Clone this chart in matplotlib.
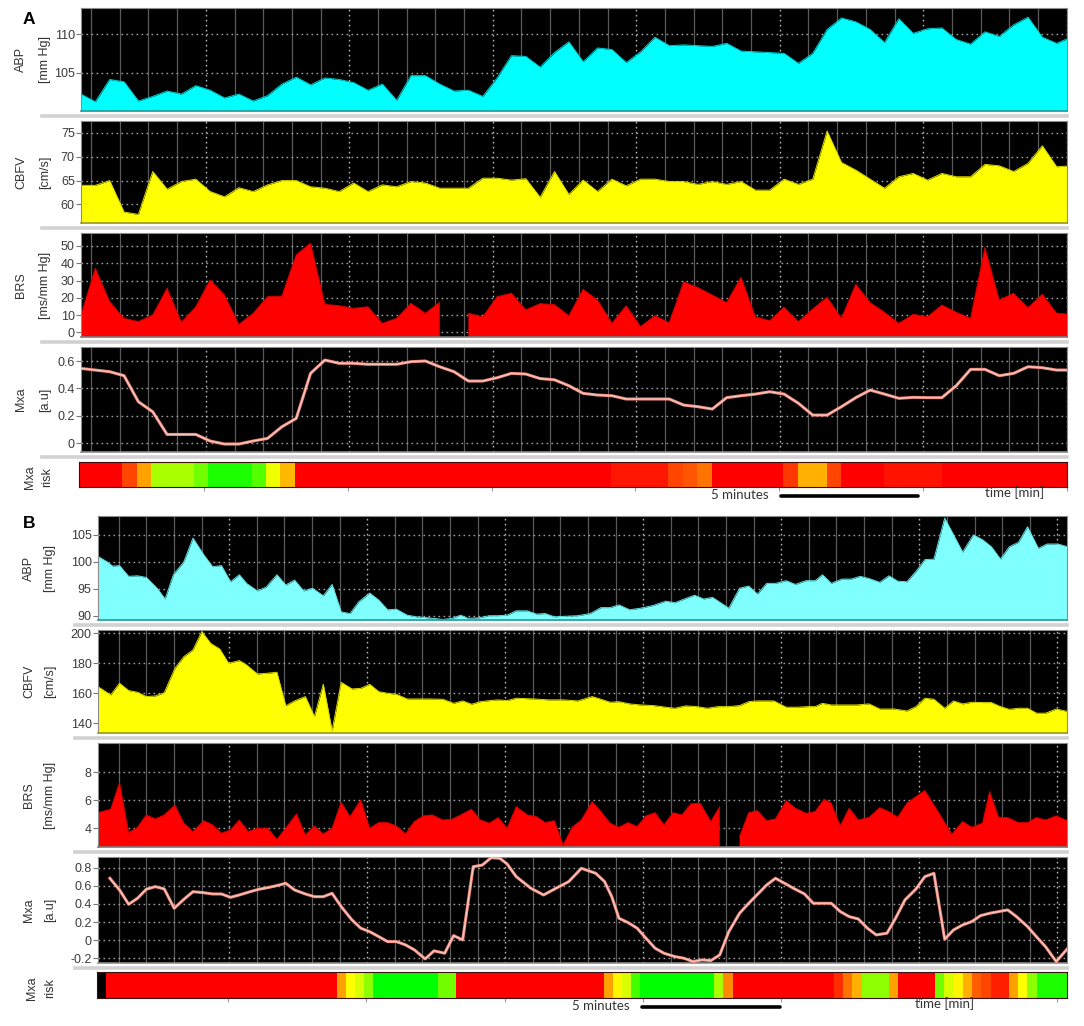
import numpy as np
import matplotlib
matplotlib.use("Agg")
import matplotlib.pyplot as plt
from matplotlib.colors import LinearSegmentedColormap
from matplotlib.lines import Line2D

plt.rcParams["font.family"] = ["Liberation Sans", "DejaVu Sans"]
plt.rcParams["axes.unicode_minus"] = False

# ======================= DATA =======================
# ---- Panel A : samples every 0.5 min ----
STEP_A = 0.5
abp_a = [102.2, 101.2, 104.1, 103.8, 101.3, 101.9, 102.6, 102.2, 103.3, 102.7,
         101.7, 102.2, 101.3, 102.0, 103.5, 104.4, 103.4, 104.3, 104.1, 103.7,
         102.7, 103.5, 101.4, 104.6, 104.6, 103.5, 102.6, 102.7, 101.9, 104.3,
         107.2, 107.1, 105.7, 107.6, 109.0, 106.4, 108.2, 108.0, 106.3, 107.7,
         109.6, 108.5, 108.6, 108.5, 108.4, 108.8, 107.8, 107.7, 107.6, 107.5,
         106.2, 107.5, 110.6, 112.1, 111.6, 110.6, 108.9, 112.0, 110.1, 110.7,
         110.8, 109.3, 108.7, 110.3, 109.7, 111.2, 112.2, 109.6, 108.8, 109.6]
cbfv_a = [64.0, 64.0, 65.0, 58.4, 57.9, 66.9, 63.2, 64.8, 65.3, 62.7,
          61.6, 63.5, 62.7, 64.1, 65.0, 65.0, 63.7, 63.4, 62.7, 64.5,
          62.7, 64.1, 63.7, 64.8, 64.5, 63.4, 63.4, 63.4, 65.5, 65.5,
          65.1, 65.4, 61.5, 66.9, 62.1, 65.1, 62.7, 65.3, 63.9, 65.3,
          65.3, 64.8, 64.8, 64.2, 64.8, 64.2, 64.8, 63.0, 63.0, 65.3,
          64.2, 65.3, 75.4, 68.8, 67.2, 65.3, 63.4, 65.8, 66.5, 65.1,
          66.5, 65.8, 65.8, 68.4, 68.1, 66.9, 68.6, 72.3, 67.9, 68.1]
brs_a = [10.0, 37.1, 17.7, 8.1, 6.2, 10.0, 25.5, 5.8, 14.8, 30.3,
         21.6, 4.6, 11.0, 20.6, 21.0, 44.8, 51.6, 16.2, 15.4, 13.9,
         14.8, 5.2, 8.1, 16.8, 11.0, 17.4, np.nan, 11.0, 9.0, 20.6,
         22.6, 13.0, 16.6, 16.0, 9.6, 24.9, 18.7, 5.2, 15.4, 3.3,
         9.6, 5.6, 29.3, 25.9, 21.6, 17.2, 31.9, 9.0, 6.7, 14.5,
         6.2, 13.5, 20.3, 8.1, 27.8, 17.2, 11.6, 5.2, 10.4, 9.0,
         15.8, 11.6, 8.1, 49.0, 18.7, 22.6, 14.3, 22.0, 11.0, 10.4]
mxa_a = [0.546, 0.534, 0.522, 0.493, 0.303, 0.230, 0.065, 0.065, 0.065, 0.017,
         -0.005, -0.005, 0.017, 0.036, 0.121, 0.182, 0.510, 0.607, 0.583, 0.583,
         0.576, 0.576, 0.576, 0.595, 0.600, 0.558, 0.522, 0.454, 0.454, 0.478,
         0.510, 0.505, 0.472, 0.463, 0.420, 0.364, 0.352, 0.347, 0.323, 0.323,
         0.323, 0.323, 0.279, 0.267, 0.250, 0.333, 0.347, 0.359, 0.376, 0.359,
         0.292, 0.206, 0.206, 0.267, 0.333, 0.388, 0.359, 0.328, 0.335, 0.333,
         0.333, 0.420, 0.539, 0.539, 0.493, 0.510, 0.558, 0.551, 0.534, 0.534]
# Mxa risk level per 0.5-min bin (0 = green, 1 = red)
RISK_BIN_A = 0.5
risk_a = [1.0, 1.0, 1.0, 0.85, 0.65, 0.3, 0.3, 0.3, 0.2, 0.05,
          0.05, 0.05, 0.15, 0.42, 0.6, 1.0, 1.0, 1.0, 1.0, 1.0,
          1.0, 1.0, 1.0, 1.0, 1.0, 1.0, 1.0, 1.0, 1.0, 1.0,
          1.0, 1.0, 1.0, 1.0, 1.0, 1.0, 1.0, 0.95, 0.95, 0.95,
          0.95, 0.85, 0.82, 0.75, 1.0, 1.0, 1.0, 1.0, 1.0, 0.88,
          0.62, 0.62, 0.85, 1.0, 1.0, 1.0, 0.96, 0.96, 0.96, 0.96,
          1.0, 1.0, 1.0, 1.0, 1.0, 1.0, 1.0, 1.0, 1.0]

# ---- Panel B : irregular sample times (min) ----
abp_b_t = [0.0, 0.33, 0.53, 0.78, 1.11, 1.43, 1.75, 2.14, 2.43, 2.73,
           3.11, 3.44, 3.83, 4.15, 4.47, 4.80, 5.12, 5.38, 5.77, 6.09,
           6.48, 6.80, 7.12, 7.45, 7.77, 8.16, 8.48, 8.81, 9.13, 9.45,
           9.84, 10.17, 10.49, 10.81, 11.20, 11.52, 11.98, 12.49, 12.82, 13.14,
           13.40, 13.79, 14.18, 14.50, 14.82, 15.15, 15.55, 15.88, 16.20, 16.53,
           16.98, 17.38, 17.83, 18.22, 18.55, 18.87, 19.26, 19.66, 20.11, 20.57,
           20.89, 21.29, 21.61, 21.94, 22.26, 22.85, 23.24, 23.57, 23.89, 24.22,
           24.54, 24.93, 25.26, 25.65, 25.98, 26.24, 26.56, 26.95, 27.28, 27.61,
           27.93, 28.32, 28.65, 28.97, 29.30, 29.63, 29.95, 30.28, 30.67, 30.99,
           31.32, 31.71, 32.04, 32.36, 32.69, 33.01, 33.34, 33.67, 34.06, 34.38,
           34.77, 35.12]
abp_b = [101.0, 100.0, 99.2, 99.3, 97.3, 97.4, 97.1, 95.1, 93.1, 97.6,
         100.0, 104.4, 101.3, 99.1, 99.3, 96.3, 97.6, 96.0, 94.6, 95.3,
         97.6, 95.7, 96.6, 94.6, 95.1, 93.7, 95.8, 90.7, 90.4, 92.6,
         94.2, 92.9, 91.1, 91.2, 90.1, 89.8, 89.6, 89.3, 89.5, 90.1,
         89.5, 89.6, 90.0, 90.0, 90.1, 90.9, 90.9, 90.3, 90.4, 89.8,
         89.9, 90.0, 90.4, 91.5, 91.5, 92.0, 91.1, 91.4, 91.9, 92.7,
         92.4, 93.2, 93.8, 93.1, 93.4, 91.4, 95.1, 95.5, 94.0, 96.0,
         96.0, 96.5, 95.8, 96.5, 96.5, 97.6, 96.0, 96.8, 96.8, 97.3,
         96.9, 96.2, 97.4, 96.4, 96.3, 98.2, 100.4, 100.5, 108.1, 105.0,
         101.8, 105.0, 104.1, 102.8, 100.5, 102.8, 103.6, 106.5, 102.5, 103.3,
         103.3, 102.8]
cbfv_b_t = [0.0, 0.46, 0.78, 1.11, 1.43, 1.75, 2.08, 2.40, 2.60, 2.79,
            3.11, 3.44, 3.76, 4.08, 4.41, 4.73, 5.12, 5.38, 5.77, 6.09,
            6.48, 6.80, 7.12, 7.51, 7.84, 8.16, 8.48, 8.81, 9.20, 9.52,
            9.84, 10.17, 10.49, 10.81, 11.20, 11.52, 11.98, 12.49, 12.88, 13.21,
            13.53, 13.85, 14.18, 14.50, 14.82, 15.15, 15.81, 16.33, 16.85, 17.38,
            17.90, 18.22, 18.55, 18.87, 19.26, 19.66, 20.11, 20.57, 20.89, 21.29,
            21.68, 22.07, 22.46, 22.85, 23.24, 23.57, 23.89, 24.48, 24.93, 25.33,
            25.72, 25.98, 26.24, 26.56, 27.02, 27.48, 27.93, 28.32, 28.84, 29.30,
            29.63, 29.95, 30.28, 30.67, 30.99, 31.32, 31.65, 32.04, 32.36, 32.69,
            33.01, 33.34, 33.67, 34.00, 34.32, 34.71, 35.13]
cbfv_b = [164.4, 158.9, 166.7, 161.8, 160.7, 157.8, 158.2, 160.4, 168.9, 176.7,
          184.4, 188.9, 201.1, 193.3, 189.5, 180.0, 181.8, 178.9, 172.9, 173.3,
          174.0, 151.6, 154.9, 157.8, 144.4, 166.0, 134.9, 167.3, 162.9, 163.3,
          166.0, 161.1, 160.0, 159.3, 156.2, 156.2, 156.2, 156.0, 153.3, 154.9,
          152.7, 154.4, 155.1, 155.6, 155.1, 156.7, 156.2, 155.6, 155.6, 154.9,
          157.8, 156.0, 154.0, 154.4, 152.9, 152.2, 151.8, 150.7, 150.0, 151.6,
          151.1, 150.0, 151.1, 151.1, 151.8, 154.4, 154.9, 154.9, 150.7, 150.7,
          151.1, 151.1, 153.3, 152.2, 152.2, 152.2, 152.9, 149.5, 149.5, 148.2,
          151.1, 156.7, 156.0, 150.0, 154.9, 152.9, 154.0, 153.8, 153.8, 151.1,
          149.3, 150.0, 150.0, 146.7, 146.7, 149.5, 147.8]
brs_b_t = [0.0, 0.46, 0.78, 1.11, 1.43, 1.75, 2.08, 2.40, 2.79, 3.11,
           3.44, 3.83, 4.15, 4.47, 4.80, 5.12, 5.44, 5.77, 6.15, 6.48,
           6.80, 7.19, 7.51, 7.84, 8.16, 8.48, 8.81, 9.13, 9.52, 9.84,
           10.17, 10.49, 10.81, 11.14, 11.46, 11.78, 12.11, 12.49, 12.82, 13.14,
           13.53, 13.85, 14.18, 14.50, 14.82, 15.15, 15.55, 15.88, 16.20, 16.53,
           16.85, 17.18, 17.51, 17.90, 18.22, 18.55, 18.87, 19.20, 19.53, 19.85,
           20.18, 20.50, 20.83, 21.15, 21.48, 21.81, 22.20, 22.52, 22.90, 23.24,
           23.57, 23.89, 24.22, 24.54, 24.93, 25.26, 25.65, 25.98, 26.30, 26.56,
           26.89, 27.21, 27.54, 27.93, 28.32, 28.65, 28.97, 29.30, 29.63, 29.95,
           30.28, 30.60, 30.93, 31.32, 31.65, 32.04, 32.30, 32.62, 32.95, 33.34,
           33.67, 33.99, 34.32, 34.71, 35.13]
brs_b = [5.11, 5.36, 7.26, 3.69, 4.07, 4.95, 4.66, 4.95, 5.66, 4.36,
         3.76, 4.54, 4.24, 3.64, 3.88, 4.59, 3.76, 4.00, 4.00, 3.21,
         4.00, 5.02, 3.52, 4.17, 3.59, 4.00, 5.86, 4.83, 6.02, 4.00,
         4.40, 4.40, 4.17, 3.59, 4.48, 4.88, 4.95, 4.59, 4.64, 4.95,
         5.36, 4.59, 4.36, 4.76, 4.00, 5.54, 4.95, 4.83, 4.40, 4.54,
         2.81, 4.07, 4.59, 5.90, 5.19, 4.36, 4.07, 4.40, 4.12, 4.88,
         5.11, 4.24, 5.11, 4.95, 5.74, 5.79, 4.48, 5.54, np.nan, 3.40,
         5.11, 5.26, 4.54, 4.66, 5.97, 5.43, 5.07, 5.19, 6.07, 5.79,
         4.17, 5.43, 4.59, 4.78, 5.47, 5.19, 4.78, 5.79, 6.26, 6.69,
         5.66, 4.64, 3.57, 4.48, 4.07, 4.36, 6.62, 4.78, 4.76, 4.40,
         4.40, 4.76, 4.59, 4.88, 4.52]
mxa_b_t = [0.43, 0.78, 1.11, 1.43, 1.75, 2.08, 2.40, 2.76, 3.11, 3.44,
           3.83, 4.15, 4.47, 4.80, 5.12, 5.51, 5.83, 6.15, 6.48, 6.80,
           7.12, 7.51, 7.84, 8.16, 8.48, 8.81, 9.20, 9.52, 9.84, 10.17,
           10.49, 10.81, 11.14, 11.46, 11.85, 12.17, 12.56, 12.88, 13.21, 13.59,
           13.92, 14.24, 14.56, 14.82, 15.15, 15.68, 16.14, 16.59, 17.05, 17.51,
           18.03, 18.35, 18.61, 18.87, 19.20, 19.53, 19.85, 20.18, 20.50, 20.89,
           21.22, 21.55, 21.87, 22.20, 22.52, 22.85, 23.24, 23.57, 23.89, 24.22,
           24.54, 24.87, 25.19, 25.59, 25.91, 26.24, 26.56, 26.89, 27.21, 27.54,
           27.87, 28.19, 28.58, 28.91, 29.23, 29.63, 29.95, 30.28, 30.67, 30.99,
           31.32, 31.65, 31.97, 32.30, 32.62, 32.95, 33.27, 33.67, 33.99, 34.32,
           34.71, 35.13]
mxa_b = [0.683, 0.554, 0.396, 0.462, 0.562, 0.591, 0.565, 0.352, 0.451, 0.535,
         0.524, 0.510, 0.510, 0.473, 0.499, 0.535, 0.562, 0.580, 0.602, 0.628,
         0.554, 0.510, 0.480, 0.480, 0.517, 0.370, 0.223, 0.132, 0.094, 0.039,
         -0.016, -0.016, -0.052, -0.107, -0.207, -0.118, -0.144, 0.050, 0.003, 0.811,
         0.829, 0.910, 0.903, 0.841, 0.701, 0.573, 0.499, 0.573, 0.646, 0.793,
         0.738, 0.646, 0.480, 0.242, 0.194, 0.132, 0.021, -0.089, -0.144, -0.181,
         -0.199, -0.236, -0.218, -0.225, -0.163, 0.094, 0.297, 0.407, 0.506, 0.609,
         0.683, 0.628, 0.573, 0.510, 0.407, 0.407, 0.407, 0.315, 0.260, 0.234,
         0.132, 0.058, 0.077, 0.253, 0.444, 0.565, 0.701, 0.738, 0.010, 0.113,
         0.168, 0.205, 0.271, 0.297, 0.315, 0.334, 0.260, 0.150, 0.039, -0.071,
         -0.236, -0.089]
RISK_BIN_B = 1.0 / 3.0
risk_b = [np.nan, 1.0, 1.0, 1.0, 1.0, 1.0, 1.0, 1.0, 1.0, 1.0,
          1.0, 1.0, 1.0, 1.0, 1.0, 1.0, 1.0, 1.0, 1.0, 1.0,
          1.0, 1.0, 1.0, 1.0, 1.0, 1.0, 0.65, 0.45, 0.38, 0.25,
          0.0, 0.0, 0.0, 0.0, 0.0, 0.0, 0.0, 0.2, 0.2, 1.0,
          1.0, 1.0, 1.0, 1.0, 1.0, 1.0, 1.0, 1.0, 1.0, 1.0,
          1.0, 1.0, 1.0, 1.0, 1.0, 0.65, 0.47, 0.38, 0.12, 0.0,
          0.0, 0.0, 0.0, 0.0, 0.0, 0.0, 0.0, 0.3, 0.7, 1.0,
          1.0, 1.0, 1.0, 1.0, 1.0, 1.0, 1.0, 1.0, 1.0, 1.0,
          0.9, 0.75, 0.62, 0.25, 0.25, 0.25, 0.65, 1.0, 1.0, 1.0,
          1.0, 0.2, 0.38, 0.47, 0.62, 0.8, 0.85, 0.93, 0.93, 0.65,
          0.45, 0.25, 0.05, 0.05, 0.05, 0.05]

# axis scales / ticks
ylim_a = {"abp": (100.0, 113.4), "cbfv": (56.1, 77.5), "brs": (-2.7, 57.5), "mxa": (-0.063, 0.702)}
ylim_b = {"abp": (89.2, 108.5), "cbfv": (133.5, 202.2), "brs": (2.66, 10.09), "mxa": (-0.252, 0.918)}
yt_a = {"abp": [105, 110], "cbfv": [60, 65, 70, 75], "brs": [0, 10, 20, 30, 40, 50], "mxa": [0, 0.2, 0.4, 0.6]}
ytl_a = {"abp": ["105", "110"], "cbfv": ["60", "65", "70", "75"],
         "brs": ["0", "10", "20", "30", "40", "50"], "mxa": ["0", "0.2", "0.4", "0.6"]}
yt_b = {"abp": [90, 95, 100, 105], "cbfv": [140, 160, 180, 200], "brs": [4, 6, 8],
        "mxa": [-0.2, 0, 0.2, 0.4, 0.6, 0.8]}
ytl_b = {"abp": ["90", "95", "100", "105"], "cbfv": ["140", "160", "180", "200"],
         "brs": ["4", "6", "8"], "mxa": ["-0.2", "0", "0.2", "0.4", "0.6", "0.8"]}
labels = {"abp": ("ABP", "[mm Hg]"), "cbfv": ("CBFV", "[cm/s]"),
          "brs": ("BRS", "[ms/mm Hg]"), "mxa": ("Mxa", "[a.u]")}

# ======================= FIGURE =======================
W, H = 1084, 1026
fig = plt.figure(figsize=(W / 100, H / 100), dpi=100)
fig.patch.set_facecolor("white")


def px_axes(x0, x1, y0, y1):
    return fig.add_axes([x0 / W, 1 - y1 / H, (x1 - x0) / W, (y1 - y0) / H])


def ftext(x, y, s, **kw):
    fig.text(x / W, 1 - y / H, s, **kw)


def hline_px(x0, x1, y, **kw):
    fig.add_artist(Line2D([x0 / W, x1 / W], [1 - y / H, 1 - y / H],
                          transform=fig.transFigure, **kw))


risk_cmap = LinearSegmentedColormap.from_list(
    "mxa_risk", [(0.0, "#00ff00"), (0.45, "#ffff00"), (1.0, "#ff0000")])
risk_cmap.set_bad("black")

LBL = dict(rotation=90, ha="center", va="center", fontsize=9, color="#333333")


def base_axes(x0, x1, y0, y1, xmax, goff, ylim, yticks, yticklabels):
    ax = px_axes(x0, x1, y0, y1)
    ax.set_facecolor("black")
    ax.set_xlim(0, xmax)
    ax.set_ylim(*ylim)
    ax.set_xticks([])
    ax.set_yticks(yticks)
    ax.set_yticklabels(yticklabels)
    ax.tick_params(axis="y", length=3.5, width=0.8, color="#777777",
                   labelsize=9, labelcolor="#3a3a3a", pad=1)
    for k, xv in enumerate(np.arange(goff, xmax, 1.0)):
        if k % 5 == 4:
            ax.axvline(xv, color="#b8b8b8", lw=1.0, ls=(0, (1.2, 2.4)), zorder=1)
        else:
            ax.axvline(xv, color="#5a5a5a", lw=0.9, zorder=1)
    for yv in yticks:
        ax.axhline(yv, color="#a0a0a0", lw=1.0, ls=(0, (1.2, 2.4)), zorder=1)
    for s in ax.spines.values():
        s.set_color("#8c8c8c")
        s.set_linewidth(0.8)
    return ax


def draw_panel(cfg, series, ylims, yts, ytls, risk, risk_bin, abp_color, abp_edge):
    x0, x1, xmax, goff = cfg["x0"], cfg["x1"], cfg["xmax"], cfg["goff"]
    keys = ["abp", "cbfv", "brs", "mxa"]
    fills = {"abp": (abp_color, abp_edge), "cbfv": ("#ffff00", "#d8d800"),
             "brs": ("#ff0000", "#d00000")}
    bottoms = {"abp": "#2a9a9a", "cbfv": "#9a962a", "brs": "#7a7a7a", "mxa": "#8c8c8c"}
    for key, (y0, y1) in zip(keys, cfg["rows"]):
        ax = base_axes(x0, x1, y0, y1, xmax, goff, ylims[key], yts[key], ytls[key])
        t, v = series[key]
        t = np.asarray(t, float)
        v = np.asarray(v, float)
        if key == "mxa":
            ax.plot(t, v, color="#ec8478", lw=2.2, zorder=3, solid_joinstyle="round")
            ax.plot(t, v, color="#f9c4ba", lw=1.0, zorder=3.1, solid_joinstyle="round")
        else:
            fc, ec = fills[key]
            ax.fill_between(t, v, ylims[key][0], color=fc, lw=0, zorder=2)
            ax.plot(t, v, color=ec, lw=0.7, zorder=2.5)
        ax.spines["bottom"].set_color(bottoms[key])
        ax.spines["bottom"].set_linewidth(1.2)
        l1, l2 = labels[key]
        yc = (y0 + y1) / 2
        ftext(cfg["lx1"], yc, l1, **LBL)
        ftext(cfg["lx2"], yc, l2, **LBL)
    # risk bar
    ry0, ry1 = cfg["risk"]
    rax = px_axes(cfg["rx0"], x1, ry0, ry1)
    edges = np.arange(len(risk) + 1) * risk_bin
    rax.pcolormesh(edges, [0, 1], np.ma.masked_invalid(np.array([risk], float)),
                   cmap=risk_cmap, vmin=0, vmax=1, shading="flat")
    rax.set_xlim(0, xmax)
    rax.set_ylim(0, 1)
    rax.set_yticks([])
    rax.set_xticks(np.arange(goff + 4, xmax, 5.0))
    rax.tick_params(axis="x", length=3, width=0.8, color="#999999", labelbottom=False)
    for s in rax.spines.values():
        s.set_color("#3a1010")
        s.set_linewidth(0.8)
    yc = (ry0 + ry1) / 2 + 3
    ftext(cfg["rlx1"], yc, "Mxa", **LBL)
    ftext(cfg["rlx2"], yc, "risk", **LBL)
    # separators
    for ys in cfg["seps"]:
        hline_px(cfg["sep_x0"], x1, ys, color="#d2d2d2", lw=2.6, zorder=0)
    # scale bar and time label
    sb = cfg["scale"]
    hline_px(sb[0], sb[1], sb[2], color="black", lw=2.6, solid_capstyle="round")
    ftext(cfg["five"][0], cfg["five"][1], "5 minutes", ha="center", va="center",
          fontsize=9.5, color="#333333", family=["Lato", "DejaVu Sans"])
    ftext(cfg["time"][0], cfg["time"][1], "time [min]", ha="center", va="center",
          fontsize=9.5, color="#333333", family=["Lato", "DejaVu Sans"])
    ftext(cfg["letter"][0], cfg["letter"][1], cfg["letter"][2], ha="center", va="center",
          fontsize=12.5, fontweight="bold", color="black")


t_a = np.arange(len(abp_a)) * STEP_A
cfg_a = dict(x0=81, x1=1067, xmax=34.36, goff=0.35,
             rows=[(8, 111), (121, 223), (233, 337), (347, 452)],
             risk=(462, 487), rx0=79, seps=[116, 228, 342, 457], sep_x0=42,
             lx1=21, lx2=45, rlx1=30, rlx2=47,
             scale=(781, 918, 496), five=(740, 495), time=(1015, 493), letter=(29, 19, "A"))
draw_panel(cfg_a,
           {"abp": (t_a, abp_a), "cbfv": (t_a, cbfv_a), "brs": (t_a, brs_a), "mxa": (t_a, mxa_a)},
           ylim_a, yt_a, ytl_a, risk_a, RISK_BIN_A, "#00ffff", "#00d0d0")

cfg_b = dict(x0=98, x1=1067, xmax=35.1, goff=0.75,
             rows=[(516, 620), (630, 733), (743, 847), (857, 963)],
             risk=(972, 998), rx0=97, seps=[625, 738, 852, 967.5], sep_x0=75,
             lx1=29, lx2=50, rlx1=32, rlx2=50,
             scale=(642, 780, 1007), five=(601, 1006), time=(945, 1004), letter=(29, 524, "B"))
draw_panel(cfg_b,
           {"abp": (abp_b_t, abp_b), "cbfv": (cbfv_b_t, cbfv_b), "brs": (brs_b_t, brs_b),
            "mxa": (mxa_b_t, mxa_b)},
           ylim_b, yt_b, ytl_b, risk_b, RISK_BIN_B, "#80ffff", "#60e0e0")

fig.savefig("out.png", dpi=100)
